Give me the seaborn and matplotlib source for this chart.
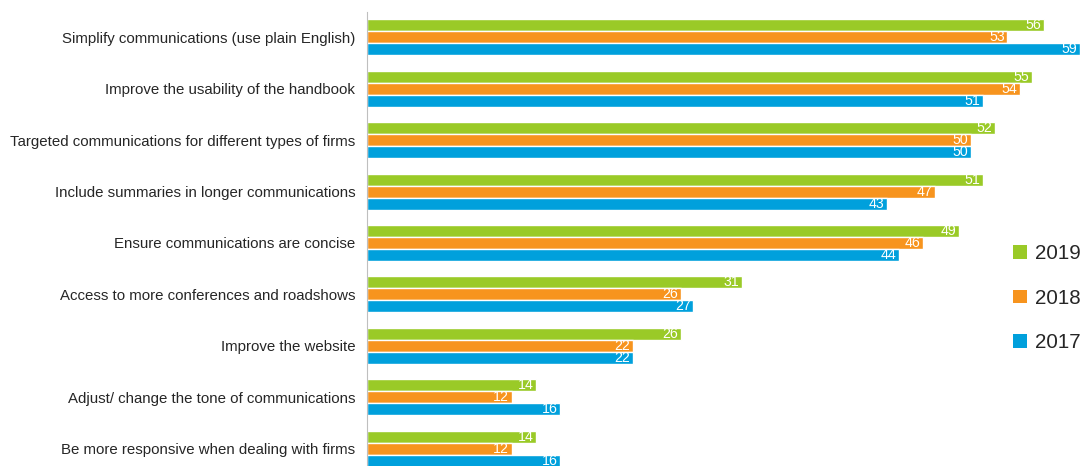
import matplotlib
matplotlib.use("Agg")
import matplotlib.pyplot as plt
from matplotlib.patches import Patch
import pandas as pd
import seaborn as sns

categories = [
    "Simplify communications (use plain English)",
    "Improve the usability of the handbook",
    "Targeted communications for different types of firms",
    "Include summaries in longer communications",
    "Ensure communications are concise",
    "Access to more conferences and roadshows",
    "Improve the website",
    "Adjust/ change the tone of communications",
    "Be more responsive when dealing with firms",
]
years = ["2019", "2018", "2017"]
vals_2019 = [56, 55, 52, 51, 49, 31, 26, 14, 14]
vals_2018 = [53, 54, 50, 47, 46, 26, 22, 12, 12]
vals_2017 = [59, 51, 50, 43, 44, 27, 22, 16, 16]
colors = ["#9ACA27", "#F7941E", "#00A0DC"]

df = pd.DataFrame({
    "category": categories * 3,
    "year": ["2019"] * 9 + ["2018"] * 9 + ["2017"] * 9,
    "value": vals_2019 + vals_2018 + vals_2017,
})

sns.set_style("white")
plt.rcParams["font.family"] = ["Liberation Sans", "DejaVu Sans"]

fig = plt.figure(figsize=(10.84, 4.66), dpi=100)
# axes runs a little past the bottom edge, like the original
ax = fig.add_axes([367 / 1084, -8.5 / 466, 713 / 1084, 463 / 466])

sns.barplot(data=df, y="category", x="value", hue="year", hue_order=years,
            palette=colors, orient="h", width=0.7, gap=0, saturation=1,
            legend=False, ax=ax)

for cont in ax.containers:
    texts = ax.bar_label(cont, padding=-2, color="white", fontsize=10.2)
    for t in texts:
        t.set_ha("right")

ax.set_xlim(0, 59)
ax.set_ylim(len(categories) - 0.5, -0.5)
ax.set_xlabel("")
ax.set_ylabel("")
ax.set_xticks([])
ax.tick_params(axis="y", which="major", length=0, pad=8.5, labelsize=10.8)
ax.set_yticks([i + 0.5 for i in range(len(categories) - 1)], minor=True)
ax.tick_params(axis="y", which="minor", length=4, color="#BFBFBF", width=1)
for s in ["top", "right", "bottom"]:
    ax.spines[s].set_visible(False)
ax.spines["left"].set_color("#BFBFBF")

handles = [Patch(facecolor=c, edgecolor="none") for c in colors]
fig.legend(handles, years, loc="center right", bbox_to_anchor=(1.014, 0.36),
           frameon=False, fontsize=14.8, handlelength=0.65, handleheight=0.65,
           handletextpad=0.4, labelspacing=1.25)

fig.savefig("out.png", dpi=100)
